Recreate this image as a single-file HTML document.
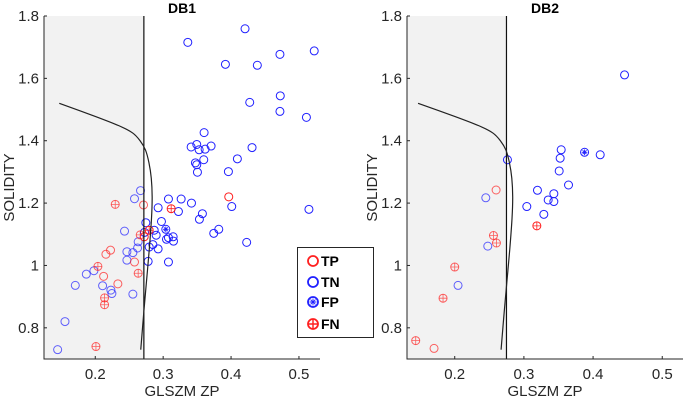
<!DOCTYPE html>
<html><head><meta charset="utf-8"><style>
body{margin:0;background:#fff;width:685px;height:400px;overflow:hidden}
svg{display:block;font-family:"Liberation Sans",Arial,sans-serif}
</style></head><body>
<svg id="c" width="685" height="400" viewBox="0 0 685 400"></svg>
<script>
const xTicks=[0.2,0.3,0.4,0.5];
const yTicks=[0.8,1,1.2,1.4,1.6,1.8];
const yTickLabels=["0.8","1","1.2","1.4","1.6","1.8"];
const db1TN=[[0.4206,1.759],[0.3363,1.7155],[0.5225,1.688],[0.472,1.677],[0.3917,1.645],[0.4387,1.642],[0.4725,1.544],[0.4275,1.523],[0.472,1.494],[0.511,1.475],[0.3603,1.426],[0.3412,1.380],[0.3495,1.388],[0.353,1.371],[0.3618,1.373],[0.3706,1.383],[0.4309,1.378],[0.3598,1.339],[0.4093,1.342],[0.3475,1.329],[0.3495,1.323],[0.3505,1.299],[0.3961,1.301],[0.2667,1.240],[0.2578,1.214],[0.3078,1.213],[0.3265,1.213],[0.2926,1.185],[0.3417,1.200],[0.3225,1.173],[0.3578,1.166],[0.3534,1.148],[0.401,1.189],[0.5147,1.180],[0.2975,1.141],[0.3745,1.103],[0.3819,1.116],[0.2745,1.137],[0.2868,1.113],[0.2897,1.097],[0.3049,1.084],[0.3147,1.092],[0.3152,1.078],[0.3078,1.089],[0.2431,1.110],[0.2725,1.106],[0.423,1.074],[0.2848,1.067],[0.2926,1.053],[0.2632,1.076],[0.2623,1.056],[0.2794,1.059],[0.2466,1.044],[0.2554,1.041],[0.2466,1.017],[0.2779,1.013],[0.3078,1.011],[0.1868,0.972],[0.1980,0.983],[0.1706,0.936],[0.2108,0.935],[0.223,0.921],[0.2245,0.910],[0.2554,0.908],[0.1554,0.820],[0.1446,0.730]];
const db1FP=[[0.3039,1.116]];
const db1TP=[[0.2711,1.194],[0.2721,1.092],[0.2225,1.049],[0.2157,1.036],[0.2578,1.011],[0.2123,0.965],[0.2333,0.941],[0.3966,1.220]];
const db1FN=[[0.2294,1.196],[0.3118,1.182],[0.2662,1.098],[0.2794,1.113],[0.2039,0.997],[0.2632,0.975],[0.2137,0.896],[0.2137,0.874],[0.201,0.740]];
const db2TN=[[0.4455,1.611],[0.2762,1.339],[0.3539,1.371],[0.3524,1.344],[0.351,1.303],[0.3645,1.258],[0.4103,1.355],[0.3196,1.241],[0.3433,1.230],[0.3351,1.210],[0.3433,1.205],[0.3042,1.189],[0.3288,1.164],[0.2449,1.217],[0.2478,1.062],[0.2048,0.936]];
const db2FP=[[0.3877,1.363]];
const db2TP=[[0.2598,1.242],[0.1701,0.734]];
const db2FN=[[0.3187,1.127],[0.256,1.096],[0.2603,1.072],[0.2,0.995],[0.1831,0.895],[0.1436,0.759]];
const curve=[[0.147,1.52],[0.20,1.478],[0.235,1.448],[0.255,1.425],[0.266,1.40],[0.274,1.37],[0.279,1.33],[0.2825,1.28],[0.2838,1.22],[0.2828,1.15],[0.2795,1.05],[0.2755,0.95],[0.2715,0.85],[0.267,0.73]];
const db1Thr=0.2716, db2Thr=0.2748;

const NS="http://www.w3.org/2000/svg";
const svg=document.getElementById('c');
function mk(tag,at,parent){const e=document.createElementNS(NS,tag);for(const k in at)e.setAttribute(k,at[k]);(parent||svg).appendChild(e);return e;}
const BLUE="#2020ff",RED="#ff2020";
function marker(g,cx,cy,type,r,sw,op){
  const col=(type==="TN"||type==="FP")?BLUE:RED;
  const c=mk('circle',{cx:cx,cy:cy,r:r,fill:'none',stroke:col,'stroke-width':sw,'stroke-opacity':op},g);
  if(type==="FN"){mk('path',{d:`M${cx-r} ${cy}H${cx+r}M${cx} ${cy-r}V${cy+r}`,stroke:col,'stroke-width':sw*0.8,'stroke-opacity':op},g);}
  if(type==="FP"){const a=r*0.7;mk('path',{d:`M${cx-a} ${cy}H${cx+a}M${cx} ${cy-a}V${cy+a}M${cx-a*0.7} ${cy-a*0.7}L${cx+a*0.7} ${cy+a*0.7}M${cx-a*0.7} ${cy+a*0.7}L${cx+a*0.7} ${cy-a*0.7}`,stroke:col,'stroke-width':0.9},g);}
  return c;
}
function smoothPath(P){
  let d=`M${P[0][0]} ${P[0][1]}`;
  for(let i=0;i<P.length-1;i++){
    const p0=P[Math.max(0,i-1)],p1=P[i],p2=P[i+1],p3=P[Math.min(P.length-1,i+2)];
    const c1=[p1[0]+(p2[0]-p0[0])/6,p1[1]+(p2[1]-p0[1])/6];
    const c2=[p2[0]-(p3[0]-p1[0])/6,p2[1]-(p3[1]-p1[1])/6];
    d+=`C${c1[0]} ${c1[1]} ${c2[0]} ${c2[1]} ${p2[0]} ${p2[1]}`;
  }
  return d;
}
function panel(name,L,R,xmin,xmax,thr,sets,title){
  const T=16,B=359,ymin=0.7,ymax=1.8;
  const sx=v=>L+(v-xmin)/(xmax-xmin)*(R-L);
  const sy=v=>B-(v-ymin)/(ymax-ymin)*(B-T);
  const g=mk('g',{});
  
  
  const sh=mk('rect',{x:L,y:T,width:sx(thr)-L,height:B-T,fill:'#f2f2f2'},g);
  
  
  for(const [type,pts] of sets){
    for(const p of pts){
      const m=marker(g,sx(p[0]),sy(p[1]),type,4,1,p[0]<thr?0.7:1);
      
      
    }
  }
  const tl=mk('line',{x1:sx(thr),x2:sx(thr),y1:T,y2:B,stroke:'#111','stroke-width':1.2},g);
  
  
  const cp=mk('path',{d:smoothPath(curve.map(p=>[sx(p[0]),sy(p[1])])),fill:'none',stroke:'#222','stroke-width':1.2},g);
  
  
  const ax=mk('path',{d:`M${L} ${T}V${B}H${R}`,fill:'none',stroke:'#262626','stroke-width':1},g);
  
  
  xTicks.forEach(v=>{
    mk('line',{x1:sx(v),x2:sx(v),y1:B,y2:B-3,stroke:'#262626'},g);
    const t=mk('text',{x:sx(v),y:B+20,'text-anchor':'middle','font-size':15,fill:'#262626'},g);
    t.textContent=String(v);
    
    
  });
  yTicks.forEach((v,i)=>{
    mk('line',{x1:L,x2:L+3,y1:sy(v),y2:sy(v),stroke:'#262626'},g);
    const t=mk('text',{x:L-5,y:sy(v)+5,'text-anchor':'end','font-size':15,fill:'#262626'},g);
    t.textContent=yTickLabels[i];
    
    
  });
  const xt=mk('text',{x:(L+R)/2,y:396,'text-anchor':'middle','font-size':15,fill:'#262626'},g);
  xt.textContent='GLSZM ZP';
  
  
  const yt=mk('text',{x:0,y:0,'text-anchor':'middle','font-size':15,fill:'#262626',transform:`translate(${L-30},${(T+B)/2}) rotate(-90)`},g);
  yt.textContent='SOLIDITY';
  
  
  const tt=mk('text',{x:(L+R)/2,y:13,'text-anchor':'middle','font-size':14,'font-weight':'bold',fill:'#000'},g);
  tt.textContent=title;
  
  
}
panel('db1',44,320,0.1245,0.531,db1Thr,[["TN",db1TN],["TP",db1TP],["FN",db1FN],["FP",db1FP]],'DB1');
panel('db2',407,683,0.131,0.530,db2Thr,[["TN",db2TN],["TP",db2TP],["FN",db2FN],["FP",db2FP]],'DB2');
const lg=mk('g',{});


mk('rect',{x:297.5,y:247.5,width:76,height:90,fill:'#fff',stroke:'#262626','stroke-width':1},lg);
[["TP",261],["TN",282],["FP",302],["FN",324]].forEach(([k,y])=>{
  const e=mk('g',{},lg);
  
  
  marker(e,313,y,k,5,1.8,1);
  const t=mk('text',{x:321,y:y+5,'font-size':14,'font-weight':'bold',fill:'#000'},e);
  t.textContent=k;
});
</script>
</body></html>
